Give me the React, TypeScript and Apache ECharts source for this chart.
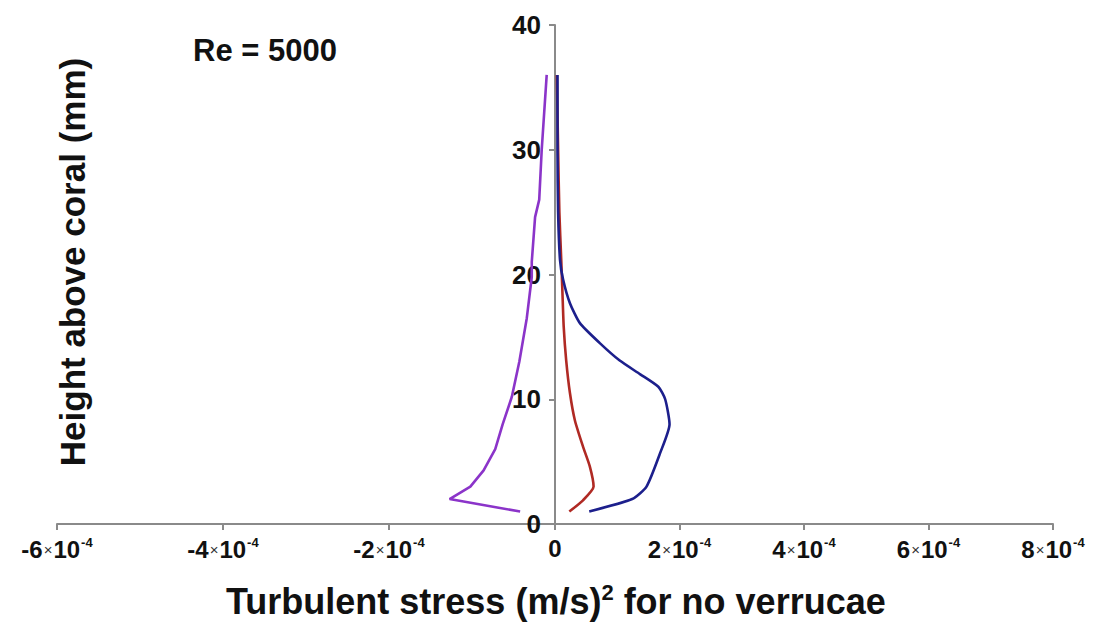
import React, { useEffect, useRef } from "react";
import * as echarts from "echarts";

// Heights above coral (mm) and turbulent stress values ((m/s)^2)
const purpleHeights = [1.0, 2.0, 3.0, 4.3, 6.0, 8.0, 10.2, 13.0, 16.5, 19.8, 21.0, 24.6, 26.0, 30.0, 36.0];
const purpleStress = [-0.42e-4, -1.27e-4, -1.02e-4, -0.86e-4, -0.72e-4, -0.63e-4, -0.52e-4, -0.43e-4, -0.34e-4, -0.28e-4, -0.28e-4, -0.24e-4, -0.19e-4, -0.16e-4, -0.1e-4];

const redHeights = [1.0, 1.9, 3.0, 4.6, 6.2, 8.3, 10.5, 13.1, 15.8, 18.5, 21.2, 25.0, 30.0, 36.0];
const redStress = [0.23e-4, 0.45e-4, 0.62e-4, 0.56e-4, 0.45e-4, 0.32e-4, 0.24e-4, 0.18e-4, 0.14e-4, 0.12e-4, 0.1e-4, 0.07e-4, 0.05e-4, 0.03e-4];

const blueHeights = [1.0, 2.0, 3.0, 5.7, 8.0, 10.0, 11.0, 12.0, 13.1, 14.5, 16.1, 17.7, 19.6, 21.2, 25.0, 30.0, 36.0];
const blueStress = [0.55e-4, 1.24e-4, 1.47e-4, 1.69e-4, 1.84e-4, 1.77e-4, 1.66e-4, 1.37e-4, 1.04e-4, 0.72e-4, 0.4e-4, 0.24e-4, 0.13e-4, 0.08e-4, 0.05e-4, 0.04e-4, 0.04e-4];

const xNegRange = [-6e-4, 0];
const xPosRange = [0, 8e-4];
const xTickStep = 2e-4;
const yRange = [0, 40];
const yTickStep = 10;

const titleText = "Re = 5000";
const xTitle = "Turbulent stress (m/s){sup|2} for no verrucae";
const yTitle = "Height above coral (mm)";

const FONT = "'Liberation Sans', Arial, Helvetica, sans-serif";
const AXIS_COLOR = "#8a8a8a";

const pairs = (xs: number[], ys: number[]) => xs.map((x, i) => [x, ys[i]]);

const tickRich = {
  n: { fontSize: 24, fontWeight: "bold", fontFamily: FONT, color: "#111" },
  m: { fontSize: 15, fontWeight: "normal", fontFamily: FONT, color: "#333", padding: [0, 1, 0, 1] },
  s: { fontSize: 13, fontWeight: "bold", fontFamily: FONT, color: "#111", padding: [0, 0, 14, 1] },
};

const fmtX = (hideZero: boolean) => (v: number) => {
  const n = Math.round(v * 1e4);
  if (n === 0) return hideZero ? "" : "{n|0}";
  return `{n|${n}}{m|×}{n|10}{s|-4}`;
};

const xAxisBase = {
  type: "value",
  interval: xTickStep,
  axisLine: { show: true, onZero: false, lineStyle: { color: AXIS_COLOR, width: 2 } },
  axisTick: { show: true, length: 6, lineStyle: { color: AXIS_COLOR, width: 2 } },
  splitLine: { show: false },
};

export default function App() {
  const ref = useRef<HTMLDivElement>(null);
  useEffect(() => {
    if (!ref.current) return;
    const chart = echarts.init(ref.current, undefined, { renderer: "svg" });
    chart.setOption({
      animation: false,
      backgroundColor: "#fff",
      grid: [
        { left: 57, top: 25, width: 498, height: 499 },
        { left: 555, top: 25, width: 498, height: 499 },
      ],
      xAxis: [
        {
          ...xAxisBase,
          gridIndex: 0,
          min: xNegRange[0],
          max: xNegRange[1],
          axisLabel: { margin: 12, formatter: fmtX(true), rich: tickRich },
        },
        {
          ...xAxisBase,
          gridIndex: 1,
          min: xPosRange[0],
          max: xPosRange[1],
          axisLabel: { margin: 12, formatter: fmtX(false), rich: tickRich },
        },
      ],
      yAxis: [
        { type: "value", gridIndex: 0, min: yRange[0], max: yRange[1], interval: yTickStep, show: false },
        {
          type: "value",
          gridIndex: 1,
          position: "left",
          min: yRange[0],
          max: yRange[1],
          interval: yTickStep,
          axisLine: { show: true, onZero: false, lineStyle: { color: AXIS_COLOR, width: 2 } },
          axisTick: { show: true, length: 6, lineStyle: { color: AXIS_COLOR, width: 2 } },
          splitLine: { show: false },
          axisLabel: { margin: 14, fontSize: 26, fontWeight: "bold", fontFamily: FONT, color: "#111" },
        },
      ],
      series: [
        {
          type: "line",
          xAxisIndex: 0,
          yAxisIndex: 0,
          data: pairs(purpleStress, purpleHeights),
          showSymbol: false,
          clip: false,
          lineStyle: { color: "#8b34c9", width: 2.6 },
        },
        {
          type: "line",
          xAxisIndex: 1,
          yAxisIndex: 1,
          data: pairs(redStress, redHeights),
          showSymbol: false,
          smooth: 0.2,
          clip: false,
          lineStyle: { color: "#b02a24", width: 2.6 },
        },
        {
          type: "line",
          xAxisIndex: 1,
          yAxisIndex: 1,
          data: pairs(blueStress, blueHeights),
          showSymbol: false,
          smooth: 0.2,
          clip: false,
          lineStyle: { color: "#1c1f8c", width: 2.6 },
        },
      ],
      graphic: [
        {
          type: "text",
          x: 193,
          y: 50,
          style: {
            text: titleText,
            fontSize: 31,
            fontWeight: "bold",
            fontFamily: FONT,
            fill: "#111",
            align: "left",
            verticalAlign: "middle",
          },
        },
        {
          type: "text",
          x: 226,
          y: 601,
          style: {
            text: xTitle,
            fontSize: 36,
            fontWeight: "bold",
            fontFamily: FONT,
            fill: "#111",
            align: "left",
            verticalAlign: "middle",
            rich: {
              sup: { fontSize: 22, fontWeight: "bold", fontFamily: FONT, fill: "#111", padding: [0, 0, 17, 0] },
            },
          },
        },
        {
          type: "text",
          x: 72,
          y: 262,
          rotation: Math.PI / 2,
          style: {
            text: yTitle,
            fontSize: 35,
            fontWeight: "bold",
            fontFamily: FONT,
            fill: "#111",
            align: "center",
            verticalAlign: "middle",
          },
        },
      ],
    });
    return () => chart.dispose();
  }, []);
  return <div ref={ref} style={{ position: "absolute", left: 0, top: 0, width: 1094, height: 641 }} />;
}
